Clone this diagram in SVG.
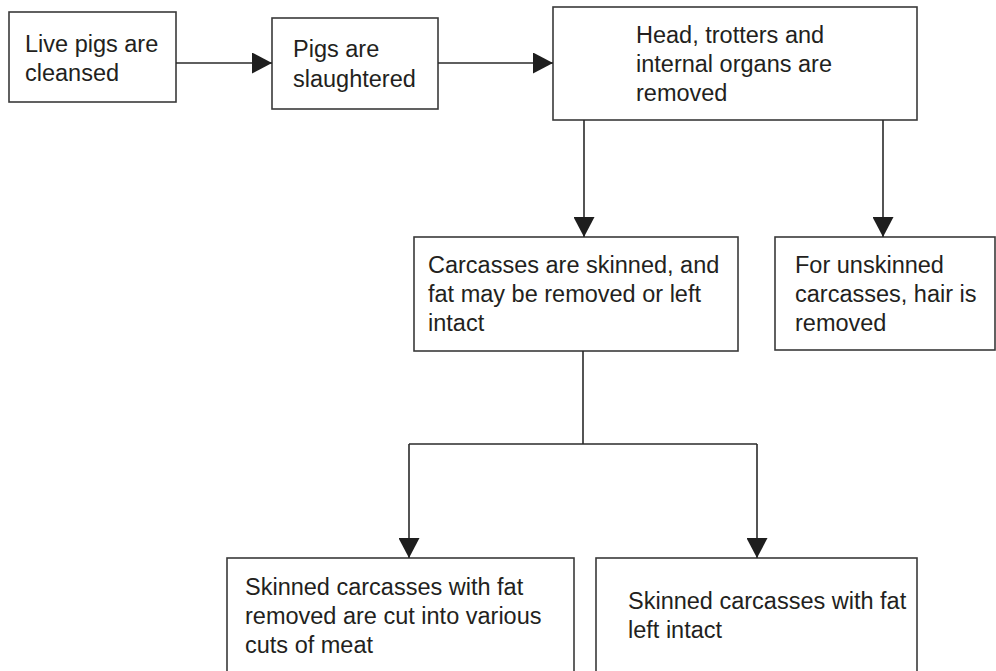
<svg xmlns="http://www.w3.org/2000/svg" width="996" height="671" viewBox="0 0 996 671">
<style>
.box{fill:#fff;stroke:#3a3a3a;stroke-width:1.6}
.t{font-family:"Liberation Sans",Arial,sans-serif;font-size:23.5px;fill:#231f20}
.c{fill:none;stroke:#2a2a2a;stroke-width:1.6}
</style>
<defs>
<marker id="ah" markerUnits="userSpaceOnUse" viewBox="0 0 20 21" refX="20" refY="10.5" markerWidth="20" markerHeight="21" orient="auto">
<path d="M0,0 L20,10.5 L0,21 z" fill="#1e1e1e"/>
</marker>
</defs>
<rect width="996" height="671" fill="#fff"/>
<g id="n1"><rect class="box" x="9" y="12" width="167" height="90"/>
<text class="t" x="25" y="52">Live pigs are</text><text class="t" x="25" y="81">cleansed</text></g>
<g id="n2"><rect class="box" x="272" y="18" width="166" height="91"/>
<text class="t" x="293" y="57">Pigs are</text><text class="t" x="293" y="87">slaughtered</text></g>
<g id="n3"><rect class="box" x="553" y="7" width="364" height="113"/>
<text class="t" x="636" y="43">Head, trotters and</text><text class="t" x="636" y="72">internal organs are</text><text class="t" x="636" y="101">removed</text></g>
<g id="n4"><rect class="box" x="414" y="237" width="324" height="114"/>
<text class="t" x="428" y="273">Carcasses are skinned, and</text><text class="t" x="428" y="302">fat may be removed or left</text><text class="t" x="428" y="331">intact</text></g>
<g id="n5"><rect class="box" x="775" y="237" width="220" height="113"/>
<text class="t" x="795" y="273">For unskinned</text><text class="t" x="795" y="302">carcasses, hair is</text><text class="t" x="795" y="331">removed</text></g>
<g id="n6"><rect class="box" x="227" y="558" width="347" height="130"/>
<text class="t" x="245" y="595">Skinned carcasses with fat</text><text class="t" x="245" y="624">removed are cut into various</text><text class="t" x="245" y="653">cuts of meat</text></g>
<g id="n7"><rect class="box" x="596" y="558" width="321" height="130"/>
<text class="t" x="628" y="609">Skinned carcasses with fat</text><text class="t" x="628" y="638">left intact</text></g>
<g id="connectors">
<path class="c" d="M176,63 H272" marker-end="url(#ah)"/>
<path class="c" d="M438,63 H553" marker-end="url(#ah)"/>
<path class="c" d="M584,120 V237" marker-end="url(#ah)"/>
<path class="c" d="M883,120 V237" marker-end="url(#ah)"/>
<path class="c" d="M583,351 V444"/>
<path class="c" d="M409,444 H757"/>
<path class="c" d="M409,444 V558" marker-end="url(#ah)"/>
<path class="c" d="M757,444 V558" marker-end="url(#ah)"/>
</g>
</svg>
